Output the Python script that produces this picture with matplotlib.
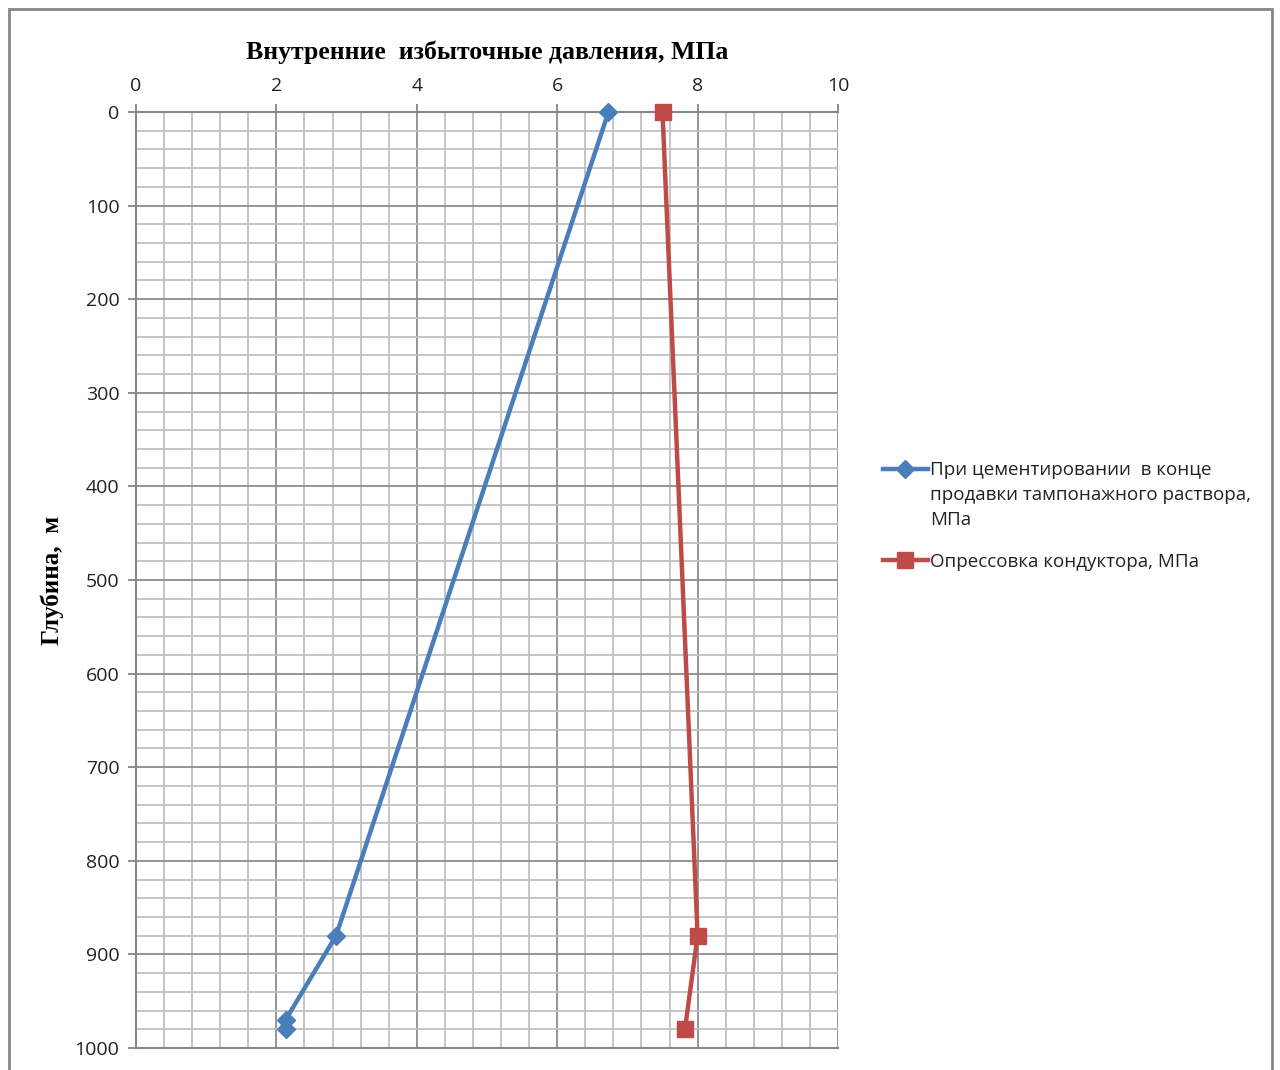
import numpy as np
import matplotlib.pyplot as plt
from matplotlib.patches import Rectangle
from matplotlib.ticker import MultipleLocator

# data
depth_cem = [0, 880, 970, 980]
p_cem = [6.73, 2.85, 2.13, 2.13]

depth_test = [0, 880, 980]
p_test = [7.5, 8.0, 7.82]

label_cem = "При цементировании  в конце\nпродавки тампонажного раствора,\nМПа"
label_test = "Опрессовка кондуктора, МПа"

W, H = 1280, 1070
fig = plt.figure(figsize=(W / 100, H / 100), dpi=100)

# outer chart border
fig.patches.append(Rectangle((9 / W, -0.01), (1272 - 9) / W, 1 - 9 / H + 0.01,
                             transform=fig.transFigure, fill=False,
                             edgecolor="#868686", linewidth=2))

ax = fig.add_axes([136 / W, 1 - 1048 / H, (838 - 136) / W, (1048 - 112) / H])

ax.set_xlim(0, 10)
ax.set_ylim(1000, 0)
ax.xaxis.set_major_locator(MultipleLocator(2))
ax.xaxis.set_minor_locator(MultipleLocator(0.4))
ax.yaxis.set_major_locator(MultipleLocator(100))
ax.yaxis.set_minor_locator(MultipleLocator(20))
ax.xaxis.tick_top()

ax.grid(which="major", color="#8c8c8c", linewidth=1.3)
ax.grid(which="minor", color="#c0c0c0", linewidth=1.3)
ax.set_axisbelow(True)

for s in ax.spines.values():
    s.set_color("#868686")
    s.set_linewidth(1.5)
ax.spines["right"].set_visible(False)

ax.tick_params(which="major", length=6, width=1.3, color="#868686",
               labelsize=14, labelcolor="#222222", pad=6)
ax.tick_params(which="minor", length=0)
for lab in ax.get_xticklabels() + ax.get_yticklabels():
    lab.set_family("Open Sans")

ax.plot(p_cem, depth_cem, color="#4A7EBB", linewidth=3.2, marker="D",
        markersize=9.5, label=label_cem, clip_on=False, zorder=3)
ax.plot(p_test, depth_test, color="#BE4B48", linewidth=3.2, marker="s",
        markersize=12, label=label_test, clip_on=False, zorder=3)

fig.text(487 / W, 1 - 52 / H, "Внутренние  избыточные давления, МПа",
         family="Liberation Serif", fontweight="bold", fontsize=18.5,
         ha="center", va="center")
fig.text(52 / W, 1 - 580 / H, "Глубина,  м", family="Liberation Serif",
         fontweight="bold", fontsize=18, rotation=90, ha="center", va="center")

leg = fig.legend(loc="center left", bbox_to_anchor=(866 / W, 1 - 516 / H),
                 frameon=False, prop={"family": "Open Sans", "size": 13.5},
                 handlelength=2.4, handletextpad=0.1, labelspacing=1.28,
                 labelcolor="#222222")
for t in leg.get_texts():
    t.set_linespacing(1.5)
# Excel puts the marker next to the first line of a wrapped label
h0 = leg.legend_handles[0]
h0.set_ydata(np.asarray(h0.get_ydata()) + 18.7)

fig.savefig("out.png", dpi=100)
